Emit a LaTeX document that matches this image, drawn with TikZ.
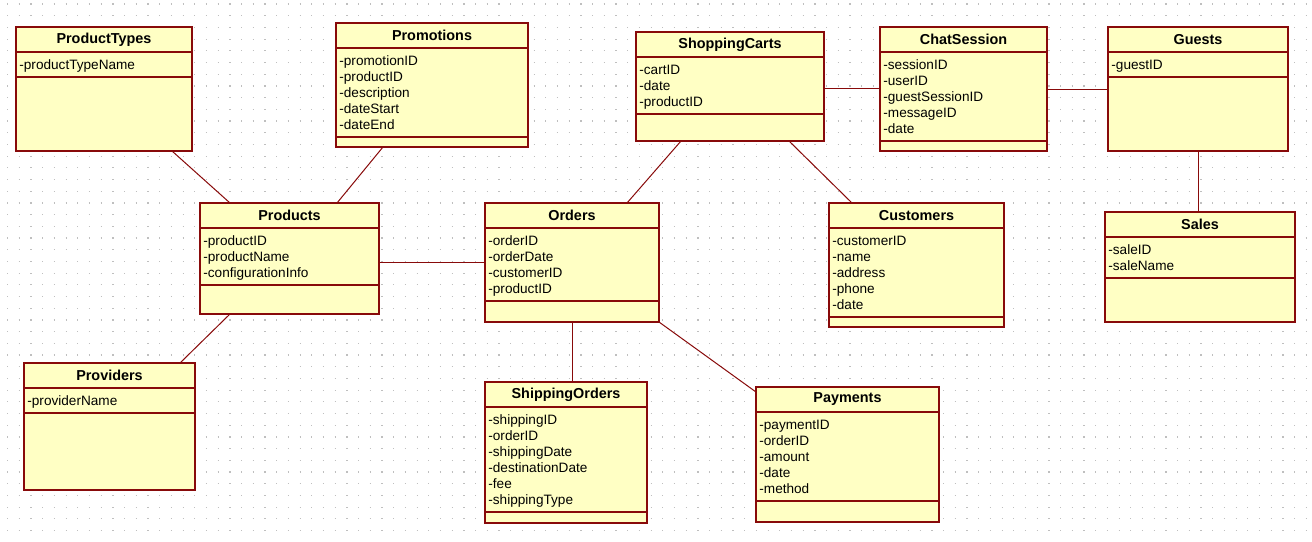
\documentclass[tikz,border=0pt]{standalone}
\usepackage{fontspec}
\setmainfont{Liberation Sans}
\usetikzlibrary{calc}
\definecolor{umlfill}{RGB}{255,255,196}
\definecolor{umlred}{RGB}{136,10,10}
\tikzset{
  classbox/.style={draw=umlred, fill=umlfill, line width=0.9pt, anchor=north west, inner sep=0pt, outer sep=0pt},
  classline/.style={draw=umlred, line width=0.7pt},
  classtitle/.style={font=\fontsize{7.2}{8}\selectfont\bfseries, inner sep=0pt},
  classattr/.style={font=\fontsize{6.8}{8}\selectfont, align=left, anchor=north west, inner sep=0pt},
  assoc/.style={draw=umlred, line width=0.5pt},
  griddot/.style={draw=black!25, line width=0.6pt, dash pattern=on 0.6pt off 5.25pt}
}
% name, left, top, width, height, title, attributes, number of attributes
\newcommand{\umlclass}[8]{%
  \node[classbox, minimum width=#4*0.5pt, minimum height=#5*0.5pt] (#1) at (#2,#3) {};
  \node[classtitle] (#1-t) at ($(#1.north)+(0,12.5)$) {#6};
  \draw[classline] ($(#1.north west)+(0,25)$) -- ($(#1.north east)+(0,25)$);
  \node[classattr] (#1-a) at ($(#1.north west)+(3,32.5)$) {#7};
  \draw[classline] ($(#1.north west)+(0,34+16*#8)$) -- ($(#1.north east)+(0,34+16*#8)$);
}

\begin{document}
\begin{tikzpicture}[x=0.5pt, y=-0.5pt]
			%%%%% START %%%%%
			
			\fill[white] (0,0) rectangle (1312,541);
			\useasboundingbox (0,0) rectangle (1312,541);
			\foreach \y in {4,15.7,...,541}
				\draw[griddot] (7,\y) -- (1312,\y);
			
			\umlclass{ptypes}{16}{27}{176}{124}{ProductTypes}{-productTypeName}{1}
			\umlclass{promos}{336}{23}{192}{124}{Promotions}{-promotionID\\-productID\\-description\\-dateStart\\-dateEnd}{5}
			\umlclass{carts}{636}{32}{188}{109}{ShoppingCarts}{-cartID\\-date\\-productID}{3}
			\umlclass{chat}{880}{27}{167}{124}{ChatSession}{-sessionID\\-userID\\-guestSessionID\\-messageID\\-date}{5}
			\umlclass{guests}{1108}{27}{180}{124}{Guests}{-guestID}{1}
			
			\umlclass{products}{200}{203}{179}{111}{Products}{-productID\\-productName\\-configurationInfo}{3}
			\umlclass{orders}{485}{203}{174}{119}{Orders}{-orderID\\-orderDate\\-customerID\\-productID}{4}
			\umlclass{cust}{829}{203}{175}{124}{Customers}{-customerID\\-name\\-address\\-phone\\-date}{5}
			\umlclass{sales}{1105}{212}{190}{110}{Sales}{-saleID\\-saleName}{2}
			
			\umlclass{provs}{24}{363}{171}{127}{Providers}{-providerName}{1}
			\umlclass{ship}{485}{382}{162}{141}{ShippingOrders}{-shippingID\\-orderID\\-shippingDate\\-destinationDate\\-fee\\-shippingType}{6}
			\umlclass{pay}{756}{387}{183}{135}{Payments}{-paymentID\\-orderID\\-amount\\-date\\-method}{5}
			
			\draw[assoc] ([xshift=-10pt]ptypes.south east) -- ([xshift=15pt]products.north west);
			\draw[assoc] ([xshift=23.5pt]promos.south west) -- ([xshift=-21pt]products.north east);
			\draw[assoc] (orders.west -| products.east) -- (orders.west);
			\draw[assoc] ([xshift=15pt]products.south west) -- ([xshift=-7.5pt]provs.north east);
			\draw[assoc] ([xshift=22.5pt]carts.south west) -- ([xshift=-16pt]orders.north east);
			\draw[assoc] ([xshift=-17.5pt]carts.south east) -- ([xshift=11.5pt]cust.north west);
			\draw[assoc] ([yshift=-1pt]carts.east) -- ([yshift=-1pt]carts.east -| chat.west);
			\draw[assoc] (chat.east) -- (guests.west);
			\draw[assoc] (guests.south) -- (guests.south |- sales.north);
			\draw[assoc] (orders.south) -- (orders.south |- ship.north);
			\draw[assoc] (orders.south east) -- ([yshift=-2.5pt]pay.north west);
			
			%%%%% END %%%%%
\end{tikzpicture}
\end{document}
